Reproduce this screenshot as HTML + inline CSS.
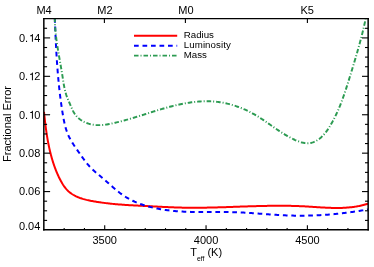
<!DOCTYPE html>
<html>
<head>
<meta charset="utf-8">
<title>Fractional Error vs Teff</title>
<style>
html,body{margin:0;padding:0;background:#ffffff;}
body{width:374px;height:267px;overflow:hidden;font-family:"Liberation Sans",sans-serif;}
svg{display:block;}
text{font-family:"Liberation Sans",sans-serif;fill:#000000;}
svg{will-change:transform;opacity:0.999;}
</style>
</head>
<body>
<svg width="374" height="267" viewBox="0 0 374 267">
<rect x="0" y="0" width="374" height="267" fill="#ffffff"/>
<defs><clipPath id="plot"><rect x="43.90" y="18.70" width="324.30" height="211.30"/></clipPath></defs>
<g clip-path="url(#plot)" fill="none" stroke-linejoin="round">
<path d="M43.99,111.90 L44.09,112.86 L44.19,113.83 L44.29,114.80 L44.39,115.76 L44.50,116.73 L44.60,117.70 L44.71,118.66 L44.82,119.63 L44.93,120.59 L45.04,121.56 L45.15,122.52 L45.27,123.49 L45.39,124.45 L45.51,125.42 L45.63,126.38 L45.76,127.35 L45.88,128.31 L46.01,129.27 L46.15,130.23 L46.28,131.19 L46.42,132.15 L46.56,133.11 L46.71,134.07 L46.86,135.03 L47.01,135.99 L47.16,136.95 L47.32,137.90 L47.49,138.86 L47.65,139.81 L47.82,140.76 L48.00,141.72 L48.18,142.67 L48.36,143.62 L48.55,144.56 L48.74,145.51 L48.94,146.46 L49.14,147.40 L49.35,148.35 L49.56,149.29 L49.77,150.23 L49.99,151.17 L50.22,152.11 L50.45,153.05 L50.69,153.98 L50.93,154.92 L51.18,155.85 L51.43,156.78 L51.69,157.71 L51.96,158.63 L52.23,159.56 L52.51,160.48 L52.79,161.41 L53.08,162.33 L53.38,163.25 L53.68,164.16 L54.00,165.08 L54.31,165.99 L54.64,166.90 L54.97,167.81 L55.31,168.72 L55.65,169.62 L56.01,170.52 L56.37,171.42 L56.74,172.32 L57.12,173.22 L57.51,174.12 L57.91,175.01 L58.32,175.91 L58.73,176.80 L59.16,177.69 L59.60,178.57 L60.06,179.46 L60.52,180.35 L61.00,181.23 L61.48,182.11 L61.99,182.98 L62.50,183.84 L63.03,184.69 L63.58,185.53 L64.15,186.34 L64.73,187.14 L65.32,187.92 L65.94,188.67 L66.58,189.40 L67.24,190.10 L67.91,190.77 L68.61,191.42 L69.32,192.03 L70.05,192.62 L70.80,193.19 L71.57,193.73 L72.35,194.25 L73.15,194.74 L73.96,195.21 L74.78,195.66 L75.62,196.09 L76.47,196.50 L77.34,196.89 L78.21,197.26 L79.10,197.61 L79.99,197.95 L80.90,198.26 L81.81,198.57 L82.73,198.86 L83.66,199.13 L84.60,199.39 L85.54,199.64 L86.49,199.88 L87.45,200.10 L88.41,200.32 L89.37,200.53 L90.34,200.72 L91.30,200.91 L92.27,201.09 L93.25,201.27 L94.22,201.44 L95.19,201.60 L96.16,201.76 L97.13,201.91 L98.10,202.06 L99.07,202.21 L100.04,202.35 L101.01,202.49 L101.98,202.63 L102.95,202.76 L103.92,202.88 L104.89,203.01 L105.85,203.12 L106.82,203.24 L107.79,203.35 L108.76,203.46 L109.72,203.57 L110.69,203.67 L111.65,203.77 L112.62,203.87 L113.58,203.96 L114.55,204.05 L115.51,204.14 L116.48,204.22 L117.44,204.31 L118.41,204.39 L119.37,204.47 L120.33,204.54 L121.30,204.62 L122.26,204.69 L123.22,204.76 L124.19,204.82 L125.15,204.89 L126.11,204.95 L127.08,205.02 L128.04,205.08 L129.00,205.14 L129.97,205.19 L130.93,205.25 L131.89,205.31 L132.86,205.36 L133.82,205.41 L134.78,205.47 L135.75,205.52 L136.71,205.57 L137.67,205.62 L138.64,205.67 L139.60,205.72 L140.56,205.76 L141.53,205.81 L142.49,205.86 L143.46,205.91 L144.42,205.95 L145.39,206.00 L146.35,206.05 L147.32,206.10 L148.28,206.14 L149.25,206.19 L150.22,206.24 L151.18,206.29 L152.15,206.34 L153.12,206.39 L154.09,206.44 L155.06,206.49 L156.02,206.54 L156.99,206.59 L157.96,206.64 L158.93,206.69 L159.90,206.74 L160.87,206.79 L161.84,206.84 L162.81,206.89 L163.78,206.94 L164.75,206.99 L165.72,207.03 L166.69,207.08 L167.66,207.12 L168.63,207.17 L169.60,207.21 L170.57,207.25 L171.54,207.29 L172.51,207.33 L173.48,207.37 L174.45,207.41 L175.43,207.44 L176.40,207.47 L177.37,207.51 L178.34,207.54 L179.31,207.56 L180.28,207.59 L181.25,207.61 L182.22,207.63 L183.19,207.65 L184.16,207.67 L185.13,207.69 L186.10,207.70 L187.07,207.71 L188.05,207.73 L189.02,207.73 L189.99,207.74 L190.96,207.75 L191.93,207.75 L192.90,207.75 L193.87,207.75 L194.84,207.75 L195.81,207.75 L196.78,207.75 L197.75,207.74 L198.72,207.74 L199.69,207.73 L200.66,207.72 L201.63,207.71 L202.60,207.70 L203.57,207.68 L204.54,207.67 L205.51,207.65 L206.48,207.64 L207.45,207.62 L208.42,207.60 L209.39,207.58 L210.35,207.56 L211.32,207.54 L212.29,207.52 L213.26,207.49 L214.23,207.47 L215.20,207.44 L216.17,207.42 L217.14,207.39 L218.11,207.36 L219.08,207.34 L220.05,207.31 L221.02,207.28 L221.99,207.25 L222.96,207.22 L223.93,207.19 L224.90,207.16 L225.86,207.13 L226.83,207.09 L227.80,207.06 L228.77,207.03 L229.74,207.00 L230.71,206.96 L231.68,206.93 L232.65,206.90 L233.62,206.86 L234.59,206.83 L235.56,206.79 L236.52,206.76 L237.49,206.73 L238.46,206.69 L239.43,206.66 L240.40,206.62 L241.37,206.59 L242.34,206.56 L243.31,206.52 L244.28,206.49 L245.25,206.46 L246.21,206.43 L247.18,206.39 L248.15,206.36 L249.12,206.33 L250.09,206.30 L251.06,206.27 L252.03,206.24 L253.00,206.21 L253.97,206.18 L254.94,206.15 L255.90,206.13 L256.87,206.10 L257.84,206.07 L258.81,206.05 L259.78,206.02 L260.75,206.00 L261.72,205.98 L262.69,205.96 L263.66,205.93 L264.63,205.91 L265.60,205.90 L266.56,205.88 L267.53,205.86 L268.50,205.84 L269.47,205.83 L270.44,205.82 L271.41,205.80 L272.38,205.79 L273.35,205.78 L274.32,205.77 L275.29,205.77 L276.26,205.76 L277.23,205.76 L278.19,205.75 L279.16,205.75 L280.13,205.75 L281.10,205.75 L282.07,205.76 L283.04,205.76 L284.01,205.77 L284.98,205.78 L285.95,205.79 L286.92,205.80 L287.89,205.81 L288.86,205.83 L289.83,205.84 L290.80,205.86 L291.77,205.88 L292.74,205.91 L293.71,205.93 L294.68,205.96 L295.65,205.99 L296.62,206.02 L297.59,206.05 L298.56,206.09 L299.53,206.13 L300.50,206.17 L301.47,206.21 L302.44,206.25 L303.41,206.30 L304.38,206.35 L305.35,206.40 L306.32,206.45 L307.29,206.51 L308.26,206.57 L309.23,206.63 L310.20,206.69 L311.17,206.75 L312.14,206.81 L313.11,206.88 L314.08,206.94 L315.05,207.01 L316.02,207.07 L316.99,207.13 L317.96,207.20 L318.93,207.26 L319.90,207.32 L320.87,207.38 L321.84,207.44 L322.81,207.50 L323.78,207.55 L324.75,207.60 L325.71,207.65 L326.68,207.70 L327.65,207.75 L328.62,207.79 L329.59,207.82 L330.56,207.86 L331.52,207.89 L332.49,207.91 L333.46,207.93 L334.43,207.95 L335.39,207.96 L336.36,207.97 L337.33,207.97 L338.29,207.96 L339.26,207.95 L340.22,207.93 L341.19,207.91 L342.15,207.88 L343.12,207.84 L344.08,207.80 L345.05,207.75 L346.01,207.69 L346.97,207.62 L347.93,207.55 L348.90,207.46 L349.86,207.37 L350.82,207.27 L351.78,207.16 L352.74,207.04 L353.70,206.91 L354.66,206.77 L355.62,206.62 L356.58,206.46 L357.54,206.29 L358.49,206.11 L359.45,205.92 L360.41,205.71 L361.36,205.50 L362.32,205.27 L363.28,205.03 L364.23,204.78 L365.18,204.52 L366.14,204.24 L367.09,203.95 L368.04,203.65" stroke="#ff0000" stroke-width="2"/>
<path d="M54.79,18.00 L54.83,19.13 L54.88,20.25 L54.92,21.38 L54.97,22.50 L55.02,23.63 L55.06,24.75 L55.11,25.88 L55.16,27.00 L55.20,28.12 L55.25,29.25 L55.30,30.37 L55.35,31.50 L55.40,32.62 L55.45,33.75 L55.50,34.87 L55.55,35.99 L55.60,37.12 L55.65,38.24 L55.70,39.37 L55.76,40.49 L55.81,41.61 L55.87,42.74 L55.92,43.86 L55.98,44.98 L56.04,46.10 L56.10,47.23 L56.16,48.35 L56.22,49.47 L56.28,50.60 L56.34,51.72 L56.41,52.84 L56.47,53.96 L56.54,55.09 L56.61,56.21 L56.68,57.33 L56.75,58.45 L56.82,59.57 L56.89,60.69 L56.97,61.82 L57.04,62.94 L57.12,64.06 L57.20,65.18 L57.28,66.30 L57.37,67.42 L57.45,68.54 L57.54,69.66 L57.62,70.78 L57.71,71.90 L57.81,73.02 L57.90,74.14 L57.99,75.27 L58.09,76.38 L58.19,77.50 L58.29,78.62 L58.39,79.74 L58.50,80.86 L58.61,81.98 L58.72,83.10 L58.83,84.22 L58.94,85.34 L59.06,86.46 L59.18,87.58 L59.30,88.70 L59.42,89.81 L59.55,90.93 L59.68,92.05 L59.81,93.17 L59.94,94.29 L60.07,95.40 L60.21,96.52 L60.35,97.64 L60.50,98.76 L60.64,99.87 L60.79,100.99 L60.94,102.11 L61.10,103.22 L61.26,104.34 L61.42,105.46 L61.58,106.57 L61.75,107.69 L61.92,108.81 L62.09,109.92 L62.26,111.04 L62.44,112.15 L62.62,113.27 L62.81,114.38 L63.00,115.50 L63.19,116.61 L63.39,117.73 L63.59,118.84 L63.81,119.95 L64.03,121.05 L64.26,122.16 L64.50,123.26 L64.75,124.35 L65.02,125.44 L65.30,126.53 L65.60,127.61 L65.91,128.68 L66.24,129.75 L66.59,130.81 L66.96,131.86 L67.35,132.90 L67.77,133.94 L68.20,134.96 L68.66,135.98 L69.14,136.98 L69.65,137.98 L70.17,138.97 L70.71,139.95 L71.27,140.93 L71.84,141.89 L72.43,142.86 L73.03,143.81 L73.65,144.76 L74.27,145.71 L74.90,146.65 L75.54,147.59 L76.19,148.53 L76.84,149.47 L77.49,150.40 L78.15,151.33 L78.80,152.26 L79.46,153.19 L80.11,154.12 L80.77,155.05 L81.42,155.98 L82.07,156.90 L82.73,157.82 L83.40,158.74 L84.06,159.65 L84.74,160.55 L85.42,161.44 L86.11,162.33 L86.81,163.20 L87.51,164.06 L88.24,164.92 L88.97,165.75 L89.71,166.58 L90.48,167.39 L91.25,168.18 L92.04,168.96 L92.84,169.73 L93.66,170.49 L94.48,171.23 L95.31,171.97 L96.15,172.70 L97.00,173.43 L97.86,174.15 L98.71,174.87 L99.57,175.59 L100.44,176.30 L101.30,177.02 L102.17,177.74 L103.03,178.46 L103.90,179.18 L104.76,179.92 L105.61,180.66 L106.47,181.40 L107.32,182.15 L108.16,182.90 L109.01,183.65 L109.86,184.41 L110.71,185.16 L111.56,185.92 L112.41,186.67 L113.26,187.42 L114.11,188.16 L114.97,188.90 L115.83,189.64 L116.70,190.36 L117.57,191.08 L118.45,191.79 L119.33,192.49 L120.23,193.18 L121.13,193.85 L122.03,194.51 L122.95,195.16 L123.88,195.79 L124.82,196.41 L125.77,197.01 L126.72,197.59 L127.69,198.16 L128.67,198.71 L129.65,199.25 L130.65,199.77 L131.65,200.27 L132.66,200.76 L133.67,201.24 L134.70,201.71 L135.73,202.15 L136.77,202.59 L137.81,203.01 L138.86,203.42 L139.91,203.82 L140.97,204.20 L142.04,204.57 L143.11,204.93 L144.18,205.28 L145.25,205.61 L146.33,205.94 L147.42,206.25 L148.50,206.55 L149.59,206.84 L150.68,207.12 L151.77,207.39 L152.86,207.65 L153.96,207.91 L155.05,208.15 L156.15,208.38 L157.25,208.60 L158.35,208.81 L159.45,209.02 L160.55,209.21 L161.65,209.40 L162.75,209.58 L163.86,209.75 L164.97,209.91 L166.07,210.07 L167.18,210.22 L168.29,210.36 L169.40,210.49 L170.51,210.62 L171.62,210.73 L172.74,210.85 L173.85,210.95 L174.97,211.05 L176.08,211.15 L177.20,211.23 L178.32,211.32 L179.43,211.39 L180.55,211.46 L181.67,211.53 L182.79,211.59 L183.92,211.65 L185.04,211.70 L186.16,211.75 L187.28,211.79 L188.41,211.83 L189.53,211.86 L190.66,211.89 L191.78,211.92 L192.91,211.95 L194.03,211.97 L195.16,211.99 L196.29,212.00 L197.41,212.02 L198.54,212.03 L199.67,212.04 L200.80,212.04 L201.93,212.05 L203.06,212.05 L204.19,212.05 L205.32,212.05 L206.45,212.05 L207.58,212.05 L208.71,212.05 L209.84,212.05 L210.97,212.04 L212.10,212.04 L213.23,212.04 L214.36,212.03 L215.49,212.03 L216.62,212.03 L217.75,212.03 L218.88,212.03 L220.01,212.03 L221.14,212.03 L222.27,212.04 L223.40,212.04 L224.53,212.05 L225.66,212.06 L226.78,212.07 L227.91,212.09 L229.04,212.10 L230.17,212.12 L231.30,212.15 L232.42,212.17 L233.55,212.20 L234.68,212.23 L235.80,212.27 L236.93,212.31 L238.05,212.35 L239.18,212.40 L240.30,212.45 L241.43,212.51 L242.55,212.56 L243.67,212.62 L244.80,212.68 L245.92,212.75 L247.04,212.81 L248.16,212.88 L249.28,212.95 L250.41,213.03 L251.53,213.10 L252.65,213.18 L253.77,213.25 L254.89,213.33 L256.01,213.41 L257.13,213.49 L258.25,213.57 L259.37,213.66 L260.49,213.74 L261.61,213.82 L262.73,213.90 L263.85,213.99 L264.97,214.07 L266.09,214.15 L267.21,214.23 L268.33,214.31 L269.45,214.39 L270.57,214.47 L271.69,214.55 L272.81,214.63 L273.93,214.70 L275.05,214.77 L276.17,214.85 L277.29,214.92 L278.41,214.98 L279.53,215.05 L280.65,215.11 L281.77,215.17 L282.89,215.23 L284.01,215.29 L285.14,215.34 L286.26,215.39 L287.38,215.43 L288.50,215.48 L289.63,215.51 L290.75,215.55 L291.87,215.58 L293.00,215.61 L294.12,215.63 L295.25,215.65 L296.37,215.67 L297.50,215.68 L298.62,215.69 L299.75,215.69 L300.87,215.69 L302.00,215.69 L303.13,215.68 L304.25,215.67 L305.38,215.66 L306.51,215.64 L307.63,215.62 L308.76,215.60 L309.89,215.57 L311.01,215.54 L312.14,215.50 L313.27,215.46 L314.39,215.42 L315.52,215.37 L316.65,215.32 L317.77,215.27 L318.90,215.21 L320.02,215.15 L321.15,215.09 L322.27,215.02 L323.40,214.95 L324.52,214.87 L325.65,214.80 L326.77,214.71 L327.90,214.63 L329.02,214.54 L330.15,214.45 L331.27,214.36 L332.39,214.26 L333.51,214.16 L334.64,214.05 L335.76,213.94 L336.88,213.83 L338.00,213.72 L339.12,213.60 L340.24,213.48 L341.36,213.35 L342.47,213.22 L343.59,213.09 L344.71,212.96 L345.83,212.82 L346.94,212.68 L348.06,212.54 L349.17,212.39 L350.29,212.24 L351.40,212.09 L352.51,211.93 L353.62,211.77 L354.73,211.61 L355.84,211.44 L356.95,211.27 L358.06,211.10 L359.17,210.92 L360.27,210.75 L361.38,210.56 L362.48,210.38 L363.59,210.19 L364.69,210.00 L365.79,209.81 L366.89,209.61 L367.99,209.41" stroke="#0000ff" stroke-width="2" stroke-dasharray="4.7 3.75"/>
<path d="M54.80,18.00 L54.81,19.25 L54.84,20.49 L54.87,21.73 L54.92,22.97 L54.97,24.21 L55.04,25.45 L55.12,26.68 L55.20,27.91 L55.30,29.15 L55.40,30.38 L55.51,31.60 L55.63,32.83 L55.76,34.06 L55.90,35.28 L56.04,36.51 L56.19,37.73 L56.34,38.96 L56.50,40.18 L56.67,41.40 L56.84,42.62 L57.02,43.84 L57.21,45.05 L57.39,46.27 L57.58,47.49 L57.78,48.71 L57.98,49.92 L58.18,51.14 L58.38,52.35 L58.59,53.57 L58.80,54.78 L59.01,56.00 L59.22,57.21 L59.44,58.43 L59.65,59.64 L59.87,60.86 L60.08,62.08 L60.30,63.29 L60.51,64.51 L60.73,65.72 L60.94,66.94 L61.15,68.16 L61.36,69.37 L61.57,70.59 L61.77,71.81 L61.97,73.03 L62.17,74.25 L62.36,75.47 L62.56,76.69 L62.74,77.92 L62.93,79.14 L63.12,80.36 L63.31,81.58 L63.51,82.80 L63.71,84.02 L63.93,85.23 L64.15,86.44 L64.39,87.64 L64.65,88.84 L64.92,90.04 L65.21,91.23 L65.52,92.41 L65.86,93.58 L66.22,94.75 L66.61,95.91 L67.03,97.06 L67.47,98.20 L67.93,99.34 L68.41,100.47 L68.90,101.61 L69.40,102.75 L69.90,103.90 L70.40,105.06 L70.90,106.22 L71.40,107.39 L71.91,108.55 L72.44,109.70 L72.99,110.83 L73.57,111.94 L74.19,113.01 L74.85,114.05 L75.57,115.04 L76.33,115.98 L77.15,116.88 L78.01,117.73 L78.92,118.53 L79.86,119.29 L80.85,119.99 L81.87,120.65 L82.92,121.27 L84.00,121.84 L85.11,122.36 L86.24,122.84 L87.39,123.27 L88.57,123.65 L89.76,123.99 L90.96,124.29 L92.17,124.54 L93.39,124.74 L94.61,124.90 L95.83,125.02 L97.06,125.10 L98.28,125.13 L99.51,125.13 L100.74,125.09 L101.96,125.01 L103.19,124.91 L104.41,124.78 L105.64,124.62 L106.86,124.44 L108.08,124.24 L109.30,124.02 L110.52,123.78 L111.74,123.52 L112.96,123.26 L114.17,122.98 L115.38,122.70 L116.59,122.41 L117.79,122.12 L119.00,121.82 L120.20,121.51 L121.39,121.20 L122.59,120.89 L123.78,120.57 L124.98,120.24 L126.17,119.91 L127.36,119.58 L128.54,119.25 L129.73,118.90 L130.91,118.56 L132.09,118.21 L133.27,117.86 L134.45,117.51 L135.63,117.15 L136.80,116.79 L137.98,116.43 L139.15,116.07 L140.33,115.70 L141.50,115.33 L142.67,114.96 L143.84,114.59 L145.01,114.22 L146.18,113.85 L147.35,113.48 L148.53,113.11 L149.70,112.74 L150.87,112.37 L152.04,112.00 L153.21,111.64 L154.38,111.27 L155.56,110.91 L156.73,110.55 L157.90,110.19 L159.08,109.83 L160.26,109.48 L161.44,109.13 L162.62,108.78 L163.80,108.44 L164.98,108.10 L166.17,107.77 L167.35,107.44 L168.54,107.11 L169.73,106.80 L170.93,106.48 L172.12,106.18 L173.32,105.87 L174.52,105.58 L175.73,105.29 L176.93,105.01 L178.14,104.74 L179.35,104.47 L180.57,104.22 L181.78,103.97 L183.00,103.73 L184.22,103.49 L185.44,103.27 L186.67,103.06 L187.89,102.86 L189.12,102.67 L190.34,102.48 L191.57,102.31 L192.80,102.16 L194.03,102.01 L195.26,101.87 L196.49,101.75 L197.73,101.64 L198.96,101.54 L200.19,101.46 L201.42,101.39 L202.66,101.33 L203.89,101.29 L205.12,101.27 L206.35,101.25 L207.58,101.26 L208.81,101.28 L210.04,101.31 L211.27,101.36 L212.49,101.43 L213.72,101.52 L214.94,101.62 L216.16,101.74 L217.38,101.88 L218.60,102.03 L219.81,102.20 L221.03,102.39 L222.24,102.60 L223.45,102.82 L224.65,103.06 L225.86,103.31 L227.06,103.59 L228.25,103.87 L229.44,104.18 L230.63,104.49 L231.82,104.83 L233.00,105.18 L234.18,105.54 L235.35,105.92 L236.52,106.31 L237.68,106.72 L238.84,107.14 L239.99,107.58 L241.14,108.03 L242.28,108.50 L243.42,108.97 L244.55,109.47 L245.68,109.97 L246.80,110.49 L247.91,111.02 L249.02,111.56 L250.12,112.12 L251.22,112.69 L252.30,113.27 L253.38,113.86 L254.46,114.46 L255.52,115.08 L256.58,115.71 L257.63,116.34 L258.68,116.99 L259.72,117.65 L260.75,118.31 L261.78,118.98 L262.81,119.66 L263.83,120.35 L264.85,121.04 L265.87,121.73 L266.88,122.43 L267.89,123.13 L268.90,123.84 L269.91,124.54 L270.92,125.25 L271.93,125.96 L272.94,126.66 L273.95,127.37 L274.97,128.07 L275.98,128.77 L277.00,129.46 L278.02,130.16 L279.05,130.84 L280.08,131.52 L281.11,132.20 L282.15,132.86 L283.20,133.52 L284.25,134.17 L285.30,134.81 L286.37,135.44 L287.44,136.06 L288.52,136.67 L289.61,137.26 L290.71,137.85 L291.82,138.41 L292.94,138.97 L294.07,139.50 L295.21,140.03 L296.36,140.53 L297.52,141.01 L298.69,141.45 L299.87,141.87 L301.05,142.24 L302.24,142.56 L303.43,142.83 L304.63,143.03 L305.83,143.18 L307.03,143.25 L308.22,143.24 L309.41,143.15 L310.60,142.97 L311.77,142.69 L312.93,142.34 L314.07,141.90 L315.19,141.39 L316.29,140.82 L317.36,140.18 L318.41,139.49 L319.42,138.75 L320.39,137.98 L321.32,137.16 L322.23,136.31 L323.09,135.43 L323.93,134.52 L324.73,133.58 L325.51,132.62 L326.26,131.64 L326.99,130.64 L327.70,129.62 L328.39,128.58 L329.06,127.54 L329.72,126.48 L330.36,125.42 L330.99,124.36 L331.61,123.29 L332.21,122.21 L332.81,121.13 L333.39,120.04 L333.96,118.95 L334.52,117.85 L335.07,116.75 L335.61,115.64 L336.15,114.53 L336.67,113.42 L337.18,112.30 L337.68,111.18 L338.18,110.05 L338.66,108.92 L339.14,107.79 L339.61,106.65 L340.08,105.51 L340.53,104.36 L340.98,103.22 L341.42,102.07 L341.86,100.91 L342.28,99.76 L342.71,98.60 L343.12,97.44 L343.54,96.28 L343.94,95.11 L344.35,93.95 L344.74,92.78 L345.14,91.61 L345.53,90.44 L345.91,89.26 L346.29,88.09 L346.67,86.91 L347.05,85.74 L347.42,84.56 L347.80,83.38 L348.17,82.20 L348.53,81.02 L348.90,79.84 L349.27,78.66 L349.63,77.48 L350.00,76.30 L350.36,75.12 L350.72,73.94 L351.09,72.76 L351.45,71.58 L351.81,70.40 L352.17,69.22 L352.53,68.04 L352.89,66.86 L353.25,65.68 L353.61,64.50 L353.96,63.32 L354.32,62.14 L354.67,60.96 L355.02,59.78 L355.37,58.60 L355.72,57.41 L356.07,56.23 L356.41,55.05 L356.76,53.86 L357.10,52.68 L357.44,51.50 L357.78,50.31 L358.11,49.13 L358.44,47.94 L358.78,46.75 L359.10,45.57 L359.43,44.38 L359.75,43.19 L360.07,42.00 L360.39,40.81 L360.71,39.62 L361.02,38.43 L361.33,37.23 L361.63,36.04 L361.94,34.84 L362.24,33.65 L362.53,32.45 L362.83,31.25 L363.12,30.05 L363.40,28.85 L363.68,27.65 L363.96,26.45 L364.24,25.25 L364.51,24.04 L364.77,22.84 L365.04,21.63 L365.29,20.42 L365.55,19.21 L365.80,18.00" stroke="#2c9b52" stroke-width="1.95" stroke-dasharray="4.55 1.975 1 1.975" stroke-dashoffset="0.3"/>
</g>
<g stroke="#000000" stroke-width="1.1" fill="none">
<line x1="64.17" y1="230.00" x2="64.17" y2="228.10"/>
<line x1="84.44" y1="230.00" x2="84.44" y2="228.10"/>
<line x1="104.71" y1="230.00" x2="104.71" y2="225.30"/>
<line x1="124.97" y1="230.00" x2="124.97" y2="228.10"/>
<line x1="145.24" y1="230.00" x2="145.24" y2="228.10"/>
<line x1="165.51" y1="230.00" x2="165.51" y2="228.10"/>
<line x1="185.78" y1="230.00" x2="185.78" y2="228.10"/>
<line x1="206.05" y1="230.00" x2="206.05" y2="225.30"/>
<line x1="226.32" y1="230.00" x2="226.32" y2="228.10"/>
<line x1="246.59" y1="230.00" x2="246.59" y2="228.10"/>
<line x1="266.86" y1="230.00" x2="266.86" y2="228.10"/>
<line x1="287.12" y1="230.00" x2="287.12" y2="228.10"/>
<line x1="307.39" y1="230.00" x2="307.39" y2="225.30"/>
<line x1="327.66" y1="230.00" x2="327.66" y2="228.10"/>
<line x1="347.93" y1="230.00" x2="347.93" y2="228.10"/>
<line x1="104.40" y1="18.70" x2="104.40" y2="22.90"/>
<line x1="185.40" y1="18.70" x2="185.40" y2="22.90"/>
<line x1="307.40" y1="18.70" x2="307.40" y2="22.90"/>
<line x1="43.90" y1="220.40" x2="47.10" y2="220.40"/>
<line x1="368.20" y1="220.40" x2="365.00" y2="220.40"/>
<line x1="43.90" y1="210.79" x2="47.10" y2="210.79"/>
<line x1="368.20" y1="210.79" x2="365.00" y2="210.79"/>
<line x1="43.90" y1="201.19" x2="47.10" y2="201.19"/>
<line x1="368.20" y1="201.19" x2="365.00" y2="201.19"/>
<line x1="43.90" y1="191.58" x2="50.10" y2="191.58"/>
<line x1="368.20" y1="191.58" x2="362.00" y2="191.58"/>
<line x1="43.90" y1="181.98" x2="47.10" y2="181.98"/>
<line x1="368.20" y1="181.98" x2="365.00" y2="181.98"/>
<line x1="43.90" y1="172.37" x2="47.10" y2="172.37"/>
<line x1="368.20" y1="172.37" x2="365.00" y2="172.37"/>
<line x1="43.90" y1="162.77" x2="47.10" y2="162.77"/>
<line x1="368.20" y1="162.77" x2="365.00" y2="162.77"/>
<line x1="43.90" y1="153.16" x2="50.10" y2="153.16"/>
<line x1="368.20" y1="153.16" x2="362.00" y2="153.16"/>
<line x1="43.90" y1="143.56" x2="47.10" y2="143.56"/>
<line x1="368.20" y1="143.56" x2="365.00" y2="143.56"/>
<line x1="43.90" y1="133.95" x2="47.10" y2="133.95"/>
<line x1="368.20" y1="133.95" x2="365.00" y2="133.95"/>
<line x1="43.90" y1="124.35" x2="47.10" y2="124.35"/>
<line x1="368.20" y1="124.35" x2="365.00" y2="124.35"/>
<line x1="43.90" y1="114.75" x2="50.10" y2="114.75"/>
<line x1="368.20" y1="114.75" x2="362.00" y2="114.75"/>
<line x1="43.90" y1="105.14" x2="47.10" y2="105.14"/>
<line x1="368.20" y1="105.14" x2="365.00" y2="105.14"/>
<line x1="43.90" y1="95.54" x2="47.10" y2="95.54"/>
<line x1="368.20" y1="95.54" x2="365.00" y2="95.54"/>
<line x1="43.90" y1="85.93" x2="47.10" y2="85.93"/>
<line x1="368.20" y1="85.93" x2="365.00" y2="85.93"/>
<line x1="43.90" y1="76.33" x2="50.10" y2="76.33"/>
<line x1="368.20" y1="76.33" x2="362.00" y2="76.33"/>
<line x1="43.90" y1="66.72" x2="47.10" y2="66.72"/>
<line x1="368.20" y1="66.72" x2="365.00" y2="66.72"/>
<line x1="43.90" y1="57.12" x2="47.10" y2="57.12"/>
<line x1="368.20" y1="57.12" x2="365.00" y2="57.12"/>
<line x1="43.90" y1="47.51" x2="47.10" y2="47.51"/>
<line x1="368.20" y1="47.51" x2="365.00" y2="47.51"/>
<line x1="43.90" y1="37.91" x2="50.10" y2="37.91"/>
<line x1="368.20" y1="37.91" x2="362.00" y2="37.91"/>
<line x1="43.90" y1="28.30" x2="47.10" y2="28.30"/>
<line x1="368.20" y1="28.30" x2="365.00" y2="28.30"/>
</g>
<g stroke="#000000" fill="none" stroke-linecap="butt">
<line x1="43.08" y1="18.63" x2="368.9" y2="18.63" stroke-width="1.25"/>
<line x1="43.08" y1="229.78" x2="368.9" y2="229.78" stroke-width="1.35"/>
<line x1="43.83" y1="18.0" x2="43.83" y2="230.45" stroke-width="1.5"/>
<line x1="368.15" y1="18.0" x2="368.15" y2="230.45" stroke-width="1.5"/>
</g>
<g font-size="11.0">
<text x="40.3" y="229.60" text-anchor="end">0.04</text>
<text x="40.3" y="195.48" text-anchor="end">0.06</text>
<text x="40.3" y="157.06" text-anchor="end">0.08</text>
<text x="18.89" y="118.65">0.</text>
<path transform="translate(28.92,118.65) scale(0.01100,-0.01100)" d="M273,0 L361,0 L361,709 L303,709 C288,640 245,588 104,570 L104,506 L273,506 Z" fill="#000"/>
<text x="34.18" y="118.65">0</text>
<text x="18.89" y="80.23">0.</text>
<path transform="translate(28.92,80.23) scale(0.01100,-0.01100)" d="M273,0 L361,0 L361,709 L303,709 C288,640 245,588 104,570 L104,506 L273,506 Z" fill="#000"/>
<text x="34.18" y="80.23">2</text>
<text x="18.89" y="41.81">0.</text>
<path transform="translate(28.92,41.81) scale(0.01100,-0.01100)" d="M273,0 L361,0 L361,709 L303,709 C288,640 245,588 104,570 L104,506 L273,506 Z" fill="#000"/>
<text x="34.18" y="41.81">4</text>
<text x="104.71" y="244.2" text-anchor="middle">3500</text>
<text x="206.05" y="244.2" text-anchor="middle">4000</text>
<text x="307.39" y="244.2" text-anchor="middle">4500</text>
<text x="44.10" y="13.7" text-anchor="middle">M4</text>
<text x="104.90" y="13.7" text-anchor="middle">M2</text>
<text x="185.90" y="13.7" text-anchor="middle">M0</text>
<text x="307.20" y="13.7" text-anchor="middle">K5</text>
<text transform="translate(10.7,124) rotate(-90)" text-anchor="middle">Fractional Error</text>
<text x="190.2" y="256.2">T<tspan font-size="6.8" dy="4.4">eff</tspan><tspan dy="-4.4"> (K)</tspan></text>
</g>
<g fill="none">
<line x1="134" y1="35.8" x2="177.2" y2="35.8" stroke="#ff0000" stroke-width="2"/>
<line x1="134" y1="45.7" x2="177.2" y2="45.7" stroke="#0000ff" stroke-width="2" stroke-dasharray="4.7 3.8"/>
<line x1="134" y1="55.6" x2="177.2" y2="55.6" stroke="#2c9b52" stroke-width="1.7" stroke-dasharray="4.55 1.975 1 1.975"/>
</g>
<g font-size="9.7">
<text x="183.8" y="38.3">Radius</text>
<text x="183.8" y="48.2" textLength="47.0" lengthAdjust="spacing">Luminosity</text>
<text x="183.8" y="57.9">Mass</text>
</g>
</svg>
</body>
</html>
